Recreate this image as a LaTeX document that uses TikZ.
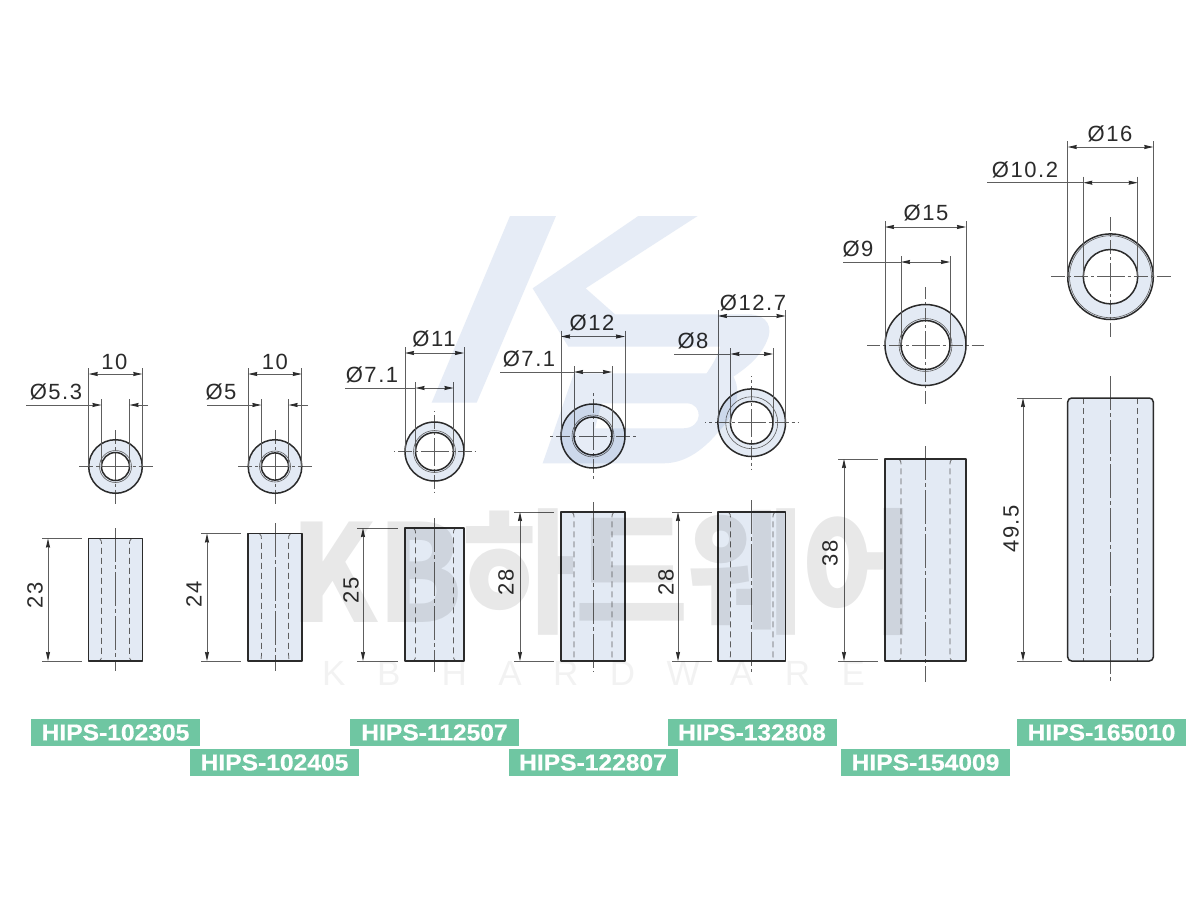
\documentclass[tikz,border=0pt]{standalone}
\usepackage{fontspec}
\setmainfont{Liberation Sans}
\newfontfamily\wmcjk{Noto Sans CJK KR Black}
\newfontfamily\wmlat[LetterSpace=90]{Liberation Sans}
\newfontfamily\dimfont[LetterSpace=7]{Liberation Sans}
\newfontfamily\tagfont[FakeBold=.6]{Liberation Sans Bold}
\usetikzlibrary{arrows.meta,calc}
\definecolor{partblue}{HTML}{E3EAF4}
\definecolor{logoblue}{HTML}{E6ECF6}
\definecolor{tagGreen}{HTML}{6FC6A2}
\definecolor{dimgray}{HTML}{5E5E5E}
\definecolor{inkdark}{HTML}{2B2B2B}
\tikzset{
  x=1pt,y=-1pt,
  extline/.style={draw=dimgray,line width=.75pt},
  dimline/.style={draw=dimgray,line width=.85pt},
  tipboth/.style={{Stealth[length=9pt,width=4pt,inset=.5pt,inkdark]}-{Stealth[length=9pt,width=4pt,inset=.5pt,inkdark]}},
  tipend/.style={-{Stealth[length=9pt,width=4pt,inset=.5pt,inkdark]}},
  outline/.style={draw=inkdark,line width=1.5pt},
  thinring/.style={draw=dimgray,line width=.6pt},
  axisline/.style={draw=dimgray,line width=.75pt,dash pattern=on 14pt off 3pt on 3pt off 3pt},
  frontaxis/.style={draw=dimgray,line width=.75pt,dash pattern=on 34pt off 3pt on 4pt off 3pt},
  hidden/.style={draw=dimgray,line width=.75pt,dash pattern=on 6pt off 4pt},
  dimtext/.style={font=\dimfont\fontsize{22}{22}\selectfont,text=inkdark,inner sep=0pt},
  tagbox/.style={fill=tagGreen,minimum width=169pt,minimum height=26.5pt,inner sep=0pt},
  tagtext/.style={font=\tagfont\fontsize{23}{23}\selectfont,text=white,xscale=1.07,inner sep=0pt},
}
\newcommand{\CircView}[6]{%
  \fill[partblue] (#1,#2) circle[radius=#3];
  \fill[white] (#1,#2) circle[radius=#4];
  \draw[thinring] (#1,#2) circle[radius=#5];
  \draw[axisline] (#1,#2) -- ++(#3+#6,0);
  \draw[axisline] (#1,#2) -- ++(-#3-#6,0);
  \draw[axisline] (#1,#2) -- ++(0,#3+#6);
  \draw[axisline] (#1,#2) -- ++(0,-#3-#6);
  \draw[outline] (#1,#2) circle[radius=#3];
  \draw[outline] (#1,#2) circle[radius=#4];
}
\newcommand{\ExtLines}[6]{%
  \draw[extline] (#1-#3,#5-6) -- (#1-#3,#2);
  \draw[extline] (#1+#3,#5-6) -- (#1+#3,#2);
  \draw[extline] (#1-#4,#6-6) -- (#1-#4,#2);
  \draw[extline] (#1+#4,#6-6) -- (#1+#4,#2);
  \draw[dimline,tipboth] (#1-#3,#5) -- (#1+#3,#5);
}
\newcommand{\FrontView}[8]{%
  \fill[partblue] (#1-#2,#4) rectangle (#1+#2,#5);
  \draw[hidden] (#1-#3-#6,#4) .. controls (#1-#3,#4+2) .. (#1-#3,#4+8) -- (#1-#3,#5-8) .. controls (#1-#3,#5-2) .. (#1-#3-#6,#5);
  \draw[hidden] (#1+#3+#6,#4) .. controls (#1+#3,#4+2) .. (#1+#3,#4+8) -- (#1+#3,#5-8) .. controls (#1+#3,#5-2) .. (#1+#3+#6,#5);
  \draw[frontaxis] (#1,#7) -- (#1,#8);
  \draw[outline,line join=round] (#1-#2,#4) rectangle (#1+#2,#5);
}
\newcommand{\HeightDim}[4]{%
  \draw[extline] (#1-6,#2) -- (#4,#2);
  \draw[extline] (#1-6,#3) -- (#4,#3);
  \draw[dimline,tipboth] (#1,#2) -- (#1,#3);
}
\begin{document}
\begin{tikzpicture}
\useasboundingbox (0,0) rectangle (1200,900);
\fill[white] (0,0) rectangle (1200,900);

\CircView{115.5}{466.5}{26.8}{14}{16}{11}
\ExtLines{115.5}{466.5}{26.8}{14}{374}{405}
\draw[dimline,tipend] (26,405) -- (101.5,405);
\draw[dimline,tipend] (148,405) -- (129.5,405);
\node[dimtext] (a1) at (114.5,361.5) {10};
\node[dimtext] (a2) at (56,392) {Ø5.3};
\FrontView{115.5}{26.8}{14}{538.5}{661}{2}{528}{671}
\HeightDim{48}{538.5}{661}{82}
\node[dimtext,rotate=90] (a3) at (35,595) {23};

\CircView{275}{466.5}{26.8}{13.6}{15.5}{11}
\ExtLines{275}{466.5}{26.8}{13.6}{374}{405}
\draw[dimline,tipend] (207,405) -- (261.4,405);
\draw[dimline,tipend] (308,405) -- (288.6,405);
\node[dimtext] (b1) at (275,361.5) {10};
\node[dimtext] (b2) at (221,392) {Ø5};
\FrontView{275}{26.8}{13.6}{533.5}{661}{2}{523}{671}
\HeightDim{207}{533.5}{661}{241}
\node[dimtext,rotate=90] (b3) at (194,594) {24};

\CircView{434.5}{451.5}{29.5}{19}{21}{11}
\ExtLines{434.5}{451.5}{29.5}{19}{353}{388}
\draw[dimline] (345,388) -- (415.5,388);
\draw[dimline,tipboth] (415.5,388) -- (453.5,388);
\node[dimtext] (c1) at (434,339) {Ø11};
\node[dimtext] (c2) at (372,375) {Ø7.1};
\FrontView{434.5}{29.5}{19}{528}{661}{2}{518}{672}
\HeightDim{363}{528}{661}{398}
\node[dimtext,rotate=90] (c3) at (351,590) {25};

\CircView{593}{436}{32}{19}{21}{11}
\ExtLines{593}{436}{32}{19}{336.5}{372}
\draw[dimline] (500,372) -- (574,372);
\draw[dimline,tipboth] (574,372) -- (612,372);
\node[dimtext] (d1) at (592,323) {Ø12};
\node[dimtext] (d2) at (529,359) {Ø7.1};
\FrontView{593}{32}{19}{512}{661}{2}{502}{672}
\HeightDim{520}{512}{661}{554}
\node[dimtext,rotate=90] (d3) at (506,582) {28};

\CircView{751.7}{422.7}{33.8}{21.3}{26}{13}
\ExtLines{751.7}{422.7}{33.8}{21.3}{316}{354}
\draw[dimline] (674,354) -- (730.4,354);
\draw[dimline,tipboth] (730.4,354) -- (773,354);
\node[dimtext] (e1) at (753,303) {Ø12.7};
\node[dimtext] (e2) at (693,341) {Ø8};
\FrontView{751.7}{33.8}{21.3}{512}{661}{2}{500}{672}
\HeightDim{678}{512}{661}{712}
\node[dimtext,rotate=90] (e3) at (666,582) {28};

\CircView{925.5}{345}{40.5}{24.5}{26.5}{18}
\ExtLines{925.5}{345}{40.5}{24.5}{227}{262}
\draw[dimline] (843,262) -- (901,262);
\draw[dimline,tipboth] (901,262) -- (950,262);
\node[dimtext] (f1) at (926,213) {Ø15};
\node[dimtext] (f2) at (858,249) {Ø9};
\FrontView{925.5}{40.5}{24.5}{459}{661}{2}{446}{682}
\HeightDim{844}{459}{661}{878}
\node[dimtext,rotate=90] (f3) at (830,553) {38};

\CircView{1110.5}{276.7}{42.8}{27.2}{41}{19}
\ExtLines{1110.5}{276.7}{42.8}{27.2}{147}{182.7}
\draw[dimline] (987,182.7) -- (1083.3,182.7);
\draw[dimline,tipboth] (1083.3,182.7) -- (1137.7,182.7);
\node[dimtext] (g1) at (1110,134) {Ø16};
\node[dimtext] (g2) at (1025,170) {Ø10.2};
\fill[partblue,rounded corners=4pt] (1067.7,398) rectangle (1153.3,661);
\draw[hidden] (1083.3,398) -- (1083.3,661);
\draw[hidden] (1137.7,398) -- (1137.7,661);
\draw[frontaxis] (1110.5,376) -- (1110.5,682);
\draw[outline,rounded corners=4pt] (1067.7,398) rectangle (1153.3,661);
\HeightDim{1023}{398}{661}{1062}
\node[dimtext,rotate=90] (g3) at (1011,529) {49.5};

\node[tagbox] (t1) at (115.5,732.5) {};\node[tagtext] at (t1) {HIPS-102305};
\node[tagbox] (t2) at (274.5,762.5) {};\node[tagtext] at (t2) {HIPS-102405};
\node[tagbox] (t3) at (434.5,732.5) {};\node[tagtext] at (t3) {HIPS-112507};
\node[tagbox] (t4) at (593,762.5) {};\node[tagtext] at (t4) {HIPS-122807};
\node[tagbox] (t5) at (752,732.5) {};\node[tagtext] at (t5) {HIPS-132808};
\node[tagbox] (t6) at (925.5,762.5) {};\node[tagtext] at (t6) {HIPS-154009};
\node[tagbox] (t7) at (1101.5,732.5) {};\node[tagtext] at (t7) {HIPS-165010};

\begin{scope}[blend mode=multiply,shift={(420,200)},x=.3333pt,y=-.3333pt]
  \fill[logoblue] (270,48) -- (408,48) -- (170,608) -- (35,608) -- cycle;
  \fill[logoblue,even odd rule]
    (655,48) -- (833,48) -- (497,265) -- (585,343) -- (985,343)
    .. controls (1045,343) and (1060,385) .. (1040,425)
    .. controls (1020,470) and (985,500) .. (940,530)
    .. controls (965,570) and (950,640) .. (900,690)
    .. controls (855,745) and (800,790) .. (730,790)
    -- (368,790) -- (462,520) -- (860,520)
    .. controls (880,490) and (895,465) .. (900,440)
    -- (445,440) -- (338,265) -- cycle
    (525,685) -- (545,610) -- (800,610)
    .. controls (850,610) and (850,685) .. (790,685) -- cycle;
\end{scope}

\node[inner sep=0pt,anchor=west,opacity=.09,text=black,xscale=.91,font=\wmcjk\fontsize{135}{135}\selectfont] (wm) at (290,572) {KB하드웨어};
\node[inner sep=0pt,anchor=west,opacity=.05,text=black,font=\wmlat\fontsize{35}{35}\selectfont] (wm2) at (322,673) {KB HARDWARE};
\end{tikzpicture}
\end{document}
